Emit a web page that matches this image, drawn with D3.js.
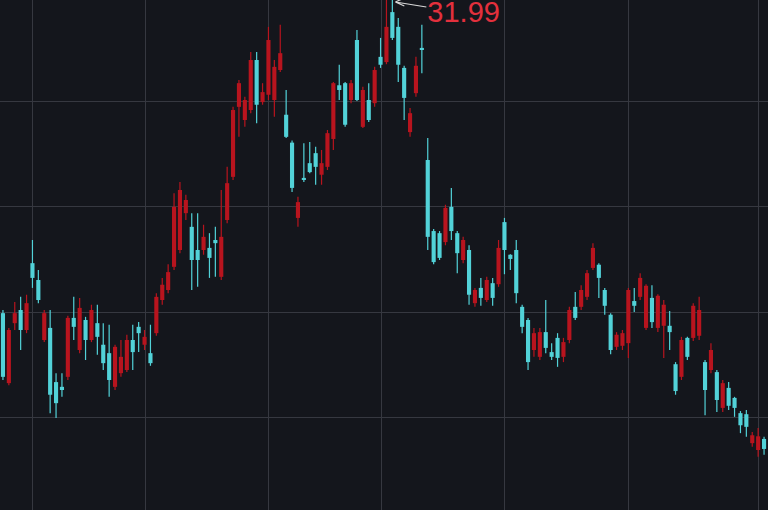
<!DOCTYPE html>
<html>
<head>
<meta charset="utf-8">
<script src="https://cdn.jsdelivr.net/npm/d3@7"></script>
<style>
  html, body { margin: 0; padding: 0; background: #14161c; overflow: hidden; }
  svg { display: block; }
</style>
</head>
<body>
<svg id="chart" width="768" height="510"></svg>
<script>
// ---- data ----
const opens = [25.97,24.64,25.78,26.03,25.65,26.92,26.60,25.46,25.69,24.66,24.57,24.76,25.88,25.27,25.84,25.46,25.78,25.37,25.21,24.57,24.83,24.89,25.46,25.71,25.37,25.21,25.59,26.22,26.41,26.85,27.17,27.87,27.61,27.17,27.17,27.21,27.36,26.66,27.74,28.56,29.89,29.64,29.83,30.78,29.98,30.12,30.02,30.59,29.74,29.21,27.78,28.54,28.82,29.01,28.60,28.75,29.28,30.30,30.34,30.02,31.16,29.51,30.02,29.96,30.84,30.74,31.69,31.41,30.63,29.41,30.15,31.01,28.88,27.53,27.49,27.32,27.99,27.49,26.98,27.17,26.16,26.45,26.22,26.54,26.52,27.70,27.08,27.17,26.09,25.84,25.27,25.14,25.61,25.23,25.50,25.14,25.46,26.09,26.09,26.28,26.83,26.89,26.41,25.94,25.33,25.35,25.40,26.20,26.28,25.69,26.26,25.69,25.73,25.73,25.00,24.76,25.50,25.50,25.54,25.04,24.89,24.85,24.17,24.55,24.36,24.07,24.05,23.50,23.37,23.58];
const highs = [26.03,25.69,26.18,26.28,26.32,27.36,26.79,26.03,26.03,24.83,24.83,25.92,26.28,26.26,25.90,26.13,26.13,25.78,25.75,25.37,25.46,25.56,25.75,25.80,25.65,25.75,26.35,26.64,26.90,28.25,28.46,28.22,27.87,27.87,27.65,27.49,27.61,28.31,28.75,29.89,30.40,30.08,30.93,30.93,30.34,31.41,30.78,31.45,30.21,29.25,28.18,29.20,29.22,29.13,29.07,29.45,30.36,30.69,30.36,30.40,31.35,30.27,30.34,30.65,31.20,31.92,31.99,31.58,30.67,29.87,30.84,31.45,29.30,27.57,27.53,28.03,28.35,27.53,27.42,27.26,26.45,26.64,26.66,26.64,27.36,27.78,27.09,27.36,26.13,25.88,25.69,25.69,26.22,25.40,25.59,25.50,26.09,26.37,26.50,26.79,27.30,26.92,26.45,25.97,25.61,25.65,26.45,26.45,26.73,26.52,26.50,26.33,26.22,26.01,25.04,25.52,25.52,26.16,26.28,25.08,25.40,24.89,24.70,24.66,24.38,24.11,24.13,23.71,23.79,23.62];
const lows = [24.70,24.60,25.65,25.27,25.59,26.45,26.16,25.42,24.07,23.98,24.38,24.70,25.46,25.21,25.08,25.42,25.18,24.89,24.38,24.51,24.76,24.85,24.89,25.23,25.27,24.97,25.54,26.13,26.35,26.79,27.11,27.74,26.41,26.47,27.08,26.64,26.66,26.60,27.68,28.50,29.32,29.51,29.77,29.58,29.93,30.02,29.70,30.55,29.30,28.27,27.61,28.46,28.63,28.41,28.41,28.69,29.07,30.02,29.51,29.96,30.00,29.49,29.60,29.89,30.63,30.70,31.16,30.36,29.64,29.32,30.08,30.53,27.17,26.90,26.98,27.26,27.36,26.73,26.92,26.13,26.09,26.11,26.18,26.11,26.47,26.71,26.79,26.16,25.59,24.89,25.14,25.08,25.21,25.08,24.95,25.04,25.40,25.84,26.03,26.22,26.79,26.26,25.94,25.19,25.27,25.27,25.12,25.99,26.22,25.65,25.69,25.61,25.12,25.27,24.42,24.70,25.08,25.44,25.46,24.03,24.83,24.09,24.09,24.13,24.00,23.69,23.62,23.43,23.24,23.28];
const closes = [24.76,25.65,25.97,25.65,26.16,26.64,26.22,25.97,24.42,24.26,24.51,25.88,25.71,26.07,25.46,26.03,25.52,25.02,24.70,25.33,25.14,25.46,25.23,25.59,25.52,25.02,26.28,26.51,26.75,27.99,28.31,28.12,26.98,26.98,27.42,27.02,27.30,27.42,28.44,29.83,30.34,30.02,30.78,29.93,30.17,31.16,30.65,30.91,29.32,28.35,28.08,28.50,28.65,28.75,28.82,29.39,30.34,30.21,29.55,30.34,30.02,30.21,29.64,30.59,30.69,31.41,31.20,30.69,30.06,29.77,30.67,30.97,27.42,26.94,27.02,27.97,27.53,27.11,27.36,26.32,26.41,26.26,26.60,26.26,27.21,27.17,27.00,26.35,25.71,25.04,25.59,25.61,25.31,25.14,25.12,25.42,26.03,25.88,26.41,26.73,27.21,26.64,26.11,25.27,25.56,25.59,26.41,26.11,26.64,26.49,25.80,26.30,26.13,25.61,24.49,25.46,25.14,26.11,26.03,24.51,25.27,24.32,24.64,24.21,24.17,23.84,23.81,23.65,23.63,23.39];
const days = opens.map((d, i) => i + 1);
const priceTicks = [30, 28, 26, 24];
const dayTicks = [6, 25, 46, 65, 86, 107, 129];
const maxLabel = "31.99";

// ---- layout ----
const W = 768, H = 510;
const svg = d3.select("#chart");
svg.append("rect").attr("width", W).attr("height", H).attr("fill", "#14161c");

const x = d3.scaleBand().domain(days).range([0, 767]).paddingInner(0.3).paddingOuter(0.15);
const y = d3.scaleLinear().domain([22, 32]).range([522.1, -4.2]);
const cx = d => x(d) + x.bandwidth() / 2;

// grid
const grid = svg.append("g").attr("stroke", "#363840").attr("stroke-width", 1).attr("shape-rendering", "crispEdges");
grid.selectAll("line.h").data(priceTicks).join("line")
  .attr("x1", 0).attr("x2", W)
  .attr("y1", d => Math.round(y(d)) + 0.5).attr("y2", d => Math.round(y(d)) + 0.5);
grid.selectAll("line.v").data(dayTicks).join("line")
  .attr("y1", 0).attr("y2", H)
  .attr("x1", d => Math.round(cx(d)) + 0.5).attr("x2", d => Math.round(cx(d)) + 0.5);

const candles = days.map((d, i) => ({ d, o: opens[i], h: highs[i], l: lows[i], c: closes[i] }));
const UP = "#b8141e", DOWN = "#52d2d8";
const col = k => (k.c >= k.o ? UP : DOWN);

const g = svg.append("g");
g.selectAll("line.wick").data(candles).join("line")
  .attr("class", "wick")
  .attr("x1", k => cx(k.d)).attr("x2", k => cx(k.d))
  .attr("y1", k => y(k.h)).attr("y2", k => y(k.l))
  .attr("stroke", col).attr("stroke-width", 1.2);
g.selectAll("rect.body").data(candles).join("rect")
  .attr("class", "body")
  .attr("x", k => x(k.d))
  .attr("width", x.bandwidth())
  .attr("y", k => y(Math.max(k.o, k.c)))
  .attr("height", k => Math.max(1.5, Math.abs(y(k.o) - y(k.c))))
  .attr("fill", col);

// max label
const maxIdx = d3.maxIndex(highs);
const mx = cx(days[maxIdx]);
svg.append("path")
  .attr("d", `M${mx + 3},2 L${mx + 12},6 M${mx + 3},2 L${mx + 12},-2 M${mx + 3},2 L${mx + 34},7`)
  .attr("stroke", "#d8d8d8").attr("stroke-width", 1.2).attr("fill", "none");
svg.append("text")
  .attr("x", mx + 35).attr("y", 22)
  .attr("fill", "#e3303d")
  .attr("font-family", "Liberation Sans, Arial, sans-serif")
  .attr("font-size", 29)
  .text(maxLabel);
</script>
</body>
</html>
